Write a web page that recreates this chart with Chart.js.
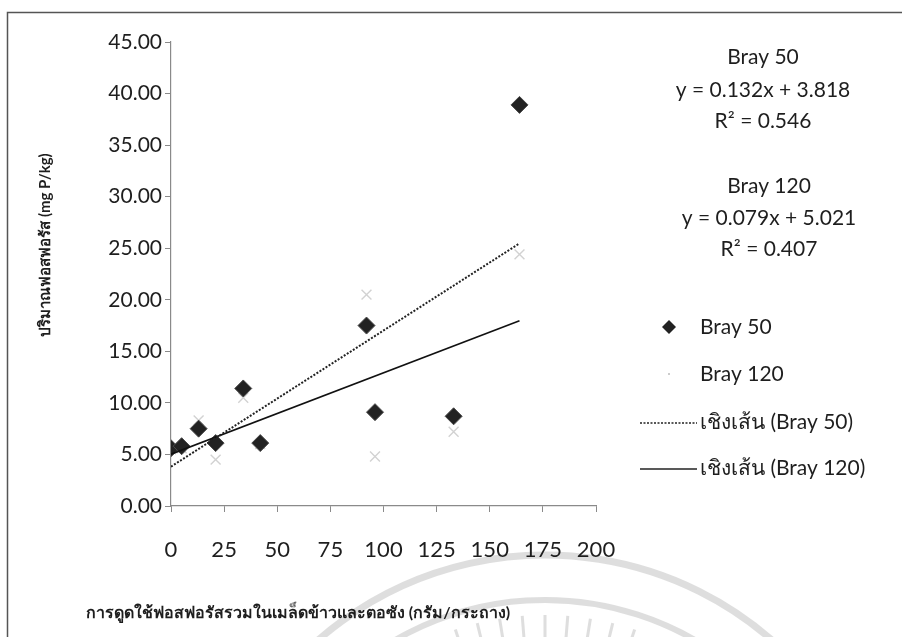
<!DOCTYPE html>
<html>
<head>
<meta charset="utf-8">
<script src="https://cdn.jsdelivr.net/npm/chart.js@4/dist/chart.umd.min.js"></script>
<style>
  html, body { margin: 0; padding: 0; background: #fff; }
  #wrap { width: 902px; height: 637px; position: relative; }
</style>
</head>
<body>
<div id="wrap"><canvas id="c" width="902" height="637"></canvas></div>
<script>
// Phosphorus uptake (g/pot) and extractable P (mg P/kg) by two Bray methods
const uptake  = [0, 5, 13, 21, 34, 42, 92, 96, 133, 164];
const bray50  = [5.6, 5.8, 7.5, 6.1, 11.4, 6.1, 17.5, 9.1, 8.7, 38.9];
const bray120 = [5.5, 5.6, 8.3, 4.5, 10.5, 6.0, 20.5, 4.8, 7.2, 24.4];

// Linear trend lines: y = slope * x + intercept
const trendSlope     = [0.132, 0.079];
const trendIntercept = [3.818, 5.021];
const trendR2        = [0.546, 0.407];

const seriesNames = ['Bray 50', 'Bray 120'];
const trendNames  = ['เชิงเส้น (Bray 50)', 'เชิงเส้น (Bray 120)'];

const xTicks = [0, 25, 50, 75, 100, 125, 150, 175, 200];
const yTicks = [0, 5, 10, 15, 20, 25, 30, 35, 40, 45];

const xTitle = 'การดูดใช้ฟอสฟอรัสรวมในเมล็ดข้าวและตอซัง (กรัม/กระถาง)';
const yTitle = 'ปริมาณฟอสฟอรัส (mg P/kg)';

const FONT = 'Lato, "Open Sans", sans-serif';
const INK = '#1e1e1e';

const xMaxData = Math.max(...uptake);
function trendPoints(i) {
  return [0, xMaxData].map(x => ({ x, y: trendSlope[i] * x + trendIntercept[i] }));
}

// Frame, equations, legend, axis titles and faint seal watermark
const decor = {
  id: 'decor',
  beforeDraw(chart) {
    const ctx = chart.ctx;
    ctx.save();
    ctx.fillStyle = '#fff';
    ctx.fillRect(0, 0, chart.width, chart.height);
    // watermark seal arcs
    ctx.strokeStyle = 'rgba(190,190,190,0.5)';
    ctx.lineWidth = 7;
    ctx.beginPath(); ctx.arc(545, 900, 345, Math.PI * 1.05, Math.PI * 1.95); ctx.stroke();
    ctx.lineWidth = 6;
    ctx.beginPath(); ctx.arc(545, 900, 300, Math.PI * 1.1, Math.PI * 1.9); ctx.stroke();
    ctx.lineWidth = 3;
    for (let a = -0.32; a <= 0.321; a += 0.08) {
      const ang = -Math.PI / 2 + a;
      ctx.beginPath();
      ctx.moveTo(545 + Math.cos(ang) * 230, 900 + Math.sin(ang) * 230);
      ctx.lineTo(545 + Math.cos(ang) * 285, 900 + Math.sin(ang) * 285);
      ctx.stroke();
    }
    // frame
    ctx.strokeStyle = '#555';
    ctx.lineWidth = 1.5;
    ctx.beginPath();
    ctx.moveTo(7.5, 637); ctx.lineTo(7.5, 12.5); ctx.lineTo(902, 12.5);
    ctx.stroke();
    ctx.restore();
  },
  afterDraw(chart) {
    const ctx = chart.ctx;
    ctx.save();
    ctx.fillStyle = INK;
    ctx.textBaseline = 'middle';

    // regression equations
    ctx.font = '21px ' + FONT;
    ctx.textAlign = 'center';
    const eqBlocks = [[763, [57, 90, 121]], [769, [186, 218, 249]]];
    eqBlocks.forEach(([cx, ys], i) => {
      ctx.fillText(seriesNames[i], cx, ys[0]);
      ctx.fillText('y = ' + trendSlope[i].toFixed(3) + 'x + ' + trendIntercept[i].toFixed(3), cx, ys[1]);
      ctx.fillText('R² = ' + trendR2[i].toFixed(3), cx, ys[2]);
    });

    // legend
    const lx = 700;
    ctx.textAlign = 'left';
    ctx.fillText(seriesNames[0], lx, 327);
    ctx.fillText(seriesNames[1], lx, 374);
    ctx.fillText(trendNames[0], lx, 422);
    ctx.fillText(trendNames[1], lx, 468);
    // legend markers
    ctx.fillStyle = '#222';
    ctx.beginPath();
    ctx.moveTo(669, 320); ctx.lineTo(676, 327); ctx.lineTo(669, 334); ctx.lineTo(662, 327);
    ctx.closePath(); ctx.fill();
    ctx.fillStyle = '#ccc';
    ctx.fillRect(668, 373, 2, 2);
    ctx.strokeStyle = '#222';
    ctx.lineWidth = 1.6;
    ctx.setLineDash([2, 1.5]);
    ctx.beginPath(); ctx.moveTo(640, 423); ctx.lineTo(697, 423); ctx.stroke();
    ctx.setLineDash([]);
    ctx.lineWidth = 1.4;
    ctx.beginPath(); ctx.moveTo(640, 469); ctx.lineTo(697, 469); ctx.stroke();

    // axis titles
    ctx.fillStyle = INK;
    ctx.font = 'bold 16px ' + FONT;
    ctx.textAlign = 'center';
    ctx.fillText(xTitle, 298, 613);
    ctx.translate(45, 245);
    ctx.rotate(-Math.PI / 2);
    ctx.font = 'bold 15px ' + FONT;
    ctx.fillText(yTitle, 0, 0);
    ctx.restore();
  }
};

new Chart(document.getElementById('c'), {
  type: 'scatter',
  data: {
    datasets: [
      {
        label: trendNames[0], type: 'line', data: trendPoints(0),
        borderColor: '#222', borderWidth: 2, borderDash: [2, 1.6],
        pointRadius: 0, fill: false, order: 1
      },
      {
        label: trendNames[1], type: 'line', data: trendPoints(1),
        borderColor: '#111', borderWidth: 1.6,
        pointRadius: 0, fill: false, order: 1
      },
      {
        label: seriesNames[1],
        data: uptake.map((x, i) => ({ x, y: bray120[i] })),
        pointStyle: 'crossRot', radius: 7, borderColor: '#d2d2d2', borderWidth: 1.4,
        backgroundColor: 'transparent', order: 3
      },
      {
        label: seriesNames[0],
        data: uptake.map((x, i) => ({ x, y: bray50[i] })),
        pointStyle: 'rectRot', radius: 8.5, backgroundColor: '#222',
        borderColor: '#4a4a4a', borderWidth: 1, order: 2
      }
    ]
  },
  options: {
    responsive: false,
    devicePixelRatio: 1,
    animation: false,
    layout: { padding: { left: 0, top: 42, right: 306, bottom: 0 } },
    plugins: { legend: { display: false }, tooltip: { enabled: false } },
    scales: {
      x: {
        type: 'linear', min: xTicks[0], max: xTicks[xTicks.length - 1],
        afterBuildTicks(s) { s.ticks = xTicks.map(v => ({ value: v })); },
        afterFit(s) { s.height = 637 - 506; },
        grid: { drawOnChartArea: false, tickLength: 6, color: '#8a8a8a' },
        border: { color: '#8a8a8a', width: 1.2 },
        ticks: { font: { size: 22, family: FONT }, color: INK, padding: 25, maxRotation: 0 }
      },
      y: {
        type: 'linear', min: yTicks[0], max: yTicks[yTicks.length - 1],
        afterBuildTicks(s) { s.ticks = yTicks.map(v => ({ value: v })); },
        afterFit(s) { s.width = 171; },
        grid: { drawOnChartArea: false, tickLength: 6, color: '#8a8a8a' },
        border: { color: '#8a8a8a', width: 1.2 },
        ticks: { font: { size: 21, family: FONT }, color: INK, padding: 3,
                 callback: v => Number(v).toFixed(2) }
      }
    }
  },
  plugins: [decor]
});
</script>
</body>
</html>
